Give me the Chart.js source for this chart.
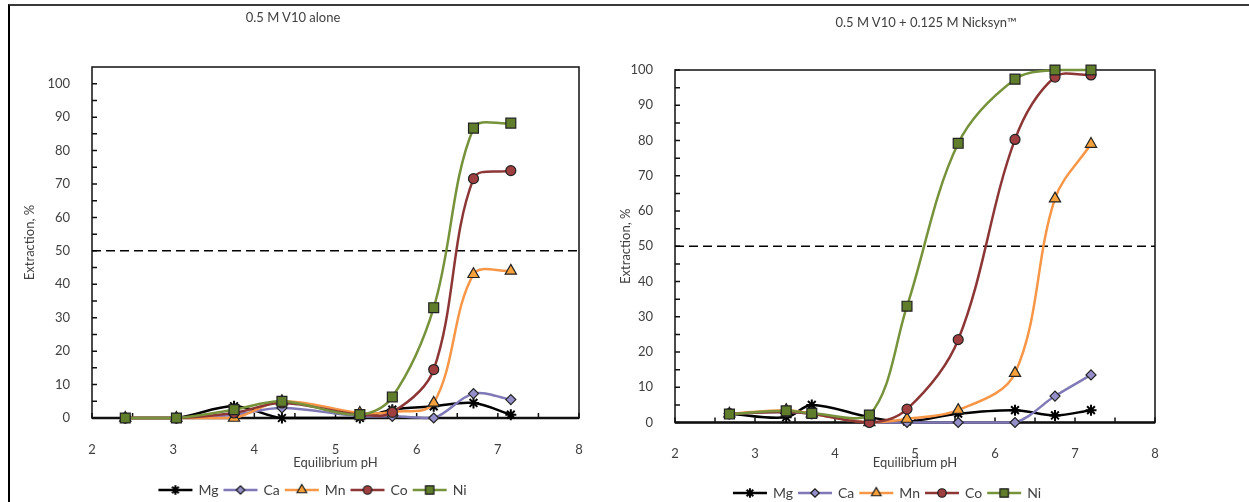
<!DOCTYPE html>
<html>
<head>
<meta charset="utf-8">
<script src="https://cdn.jsdelivr.net/npm/chart.js@4.4.1/dist/chart.umd.min.js"></script>
<style>
  body { margin: 0; background: #fff; }
  #wrap { position: relative; width: 1249px; height: 502px; overflow: hidden; font-family: Lato, "Noto Sans", sans-serif; color: #404040; }
  #border { position: absolute; left: 8px; top: 4px; right: -4px; bottom: -4px; border-top: 2px solid #3a3a3a; border-left: 2px solid #000; }
  .ttl { position: absolute; font-size: 13px; white-space: nowrap; transform: translate(-50%, -50%); }
  canvas { position: absolute; top: 0; }
</style>
</head>
<body>
<div id="wrap">
  <div id="border"></div>
  <canvas id="left" width="620" height="502" style="left:0"></canvas>
  <canvas id="right" width="629" height="502" style="left:620px"></canvas>
  <div class="ttl" style="left:293px;top:17px">0.5 M V10 alone</div>
  <div class="ttl" style="left:926px;top:22px">0.5 M V10 + 0.125 M Nicksyn™</div>
</div>
<script>
const metals = ["Mg", "Ca", "Mn", "Co", "Ni"];

// 0.5 M V10 alone
const phAlone = [2.41, 3.04, 3.75, 4.34, 5.30, 5.70, 6.21, 6.70, 7.16];
const mgAlone = [0, 0, 3.5, 0, 0, 2.5, 3.5, 4.5, 1];
const caAlone = [0, 0, 1, 3, 0.5, 0.5, 0, 7.3, 5.5];
const mnAlone = [0, 0, 0, 5, 1.5, 1.8, 4.5, 43, 44];
const coAlone = [0, 0, 1.5, 4.5, 1, 1.7, 14.5, 71.6, 74];
const niAlone = [0, 0, 2.5, 5, 1, 6.3, 33, 86.7, 88.2];

// 0.5 M V10 + 0.125 M Nicksyn
const phMix = [2.68, 3.39, 3.71, 4.43, 4.90, 5.54, 6.25, 6.75, 7.20];
const mgMix = [2.5, 1.5, 5, 1.5, 0.3, 2.5, 3.5, 2, 3.5];
const caMix = [2.5, 3, 2.5, 0, 0, 0, 0, 7.5, 13.5];
const mnMix = [2.5, 3.5, 2.5, 0, 1, 3.5, 14, 63.5, 79];
const coMix = [2.5, 3, 2.5, 0, 3.8, 23.5, 80.3, 98, 98.6];
const niMix = [2.4, 3.3, 2.6, 2.1, 33, 79.2, 97.4, 100, 100];

const halfLine = 50;

const lineColors = ["#000000", "#8079b8", "#f79646", "#8d3636", "#76933c"];
const fillColors = ["#000000", "#948fc8", "#f7a13a", "#a03f3f", "#5f7d2a"];
const markers = ["star", "rectRot", "triangle", "circle", "rect"];
const markerSizes = [5.5, 5, 6.5, 5, 7];
const fontFam = "Lato, 'Noto Sans', sans-serif";
const textColor = "#404040";

// little line + marker picture for the legend
function legendIcon(i) {
  const c = document.createElement("canvas");
  c.width = 38; c.height = 16;
  const g = c.getContext("2d");
  g.strokeStyle = lineColors[i];
  g.lineWidth = 2.5;
  g.beginPath(); g.moveTo(2, 8); g.lineTo(36, 8); g.stroke();
  g.fillStyle = fillColors[i];
  g.strokeStyle = i == 0 ? "#000" : "#1a1a1a";
  g.lineWidth = i == 0 ? 2 : 1.2;
  Chart.helpers.drawPoint(g, { pointStyle: markers[i], radius: markerSizes[i] * 0.85, borderWidth: g.lineWidth, rotation: 0 }, 19, 8);
  return c;
}
const icons = metals.map((m, i) => legendIcon(i));

// box round the plot + inward tick marks
const framePlugin = {
  id: "frame",
  beforeDatasetsDraw(chart) {
    const { ctx, chartArea: a, scales: { x, y } } = chart;
    ctx.save();
    ctx.strokeStyle = "#111";
    ctx.lineWidth = 1.5;
    ctx.strokeRect(a.left, a.top, a.right - a.left, a.bottom - a.top);
    const y0 = y.getPixelForValue(0);
    ctx.lineWidth = 2.5;
    ctx.beginPath(); ctx.moveTo(a.left, y0); ctx.lineTo(a.right, y0); ctx.stroke();
    ctx.lineWidth = 1.5;
    ctx.beginPath();
    for (let v = x.min; v <= x.max; v += 0.5) {
      const px = x.getPixelForValue(v);
      ctx.moveTo(px, y0); ctx.lineTo(px, y0 - 5);
    }
    for (let v = 0; v <= 100; v += 5) {
      const py = y.getPixelForValue(v);
      ctx.moveTo(a.left, py); ctx.lineTo(a.left + 5, py);
    }
    ctx.stroke();
    ctx.restore();
  }
};

function makeChart(id, ph, series, yMax, opt) {
  const datasets = series.map((vals, i) => ({
    label: metals[i],
    data: ph.map((x, j) => ({ x: x, y: vals[j] })),
    borderColor: lineColors[i],
    backgroundColor: fillColors[i],
    borderWidth: 2.5,
    tension: 0.35,
    pointStyle: markers[i],
    pointRadius: markerSizes[i],
    pointBackgroundColor: fillColors[i],
    pointBorderColor: i == 0 ? "#000" : "#222",
    pointBorderWidth: i == 0 ? 2 : 1.2,
    order: 5 - i,
    clip: false
  }));
  datasets.push({
    label: "half",
    data: [{ x: 2, y: halfLine }, { x: 8, y: halfLine }],
    borderColor: "#000",
    borderWidth: 1.5,
    borderDash: [9, 5],
    pointRadius: 0,
    tension: 0,
    order: 10
  });

  return new Chart(id, {
    type: "line",
    data: { datasets: datasets },
    plugins: [framePlugin],
    options: {
      responsive: false,
      animation: false,
      layout: { padding: opt.pad },
      plugins: {
        title: { display: false },
        tooltip: { enabled: false },
        legend: {
          position: "bottom",
          labels: {
            usePointStyle: true,
            pointStyleWidth: 32,
            padding: 6,
            color: textColor,
            font: { family: fontFam, size: 14 },
            generateLabels: () => metals.map((m, i) => ({
              text: m, pointStyle: icons[i], datasetIndex: i,
              fillStyle: "transparent", strokeStyle: "transparent", lineWidth: 0,
              hidden: false, fontColor: textColor
            }))
          }
        }
      },
      scales: {
        x: {
          type: "linear", min: 2, max: 8,
          grid: { display: false }, border: { display: false },
          ticks: { stepSize: 1, padding: opt.xPad, maxRotation: 0, color: textColor, font: { family: fontFam, size: 13 } },
          title: { display: true, text: "Equilibrium pH", color: textColor, font: { family: fontFam, size: 13 }, padding: { top: 0, bottom: opt.xTitlePad } },
          afterFit: s => { s.height = opt.xH; s.paddingLeft = 0; s.paddingRight = 0; }
        },
        y: {
          min: 0, max: yMax,
          grid: { display: false }, border: { display: false },
          ticks: { stepSize: 10, padding: 14, color: textColor, font: { family: fontFam, size: 13 } },
          afterBuildTicks: s => { s.ticks = s.ticks.filter(t => t.value % 10 === 0 && t.value <= 100); },
          title: { display: true, text: "Extraction, %", color: textColor, font: { family: fontFam, size: 13 }, padding: { top: opt.yTitlePad, bottom: 0 } },
          afterFit: s => { s.width = opt.yW; s.paddingTop = 0; s.paddingBottom = 0; }
        }
      }
    }
  });
}

makeChart("left", phAlone, [mgAlone, caAlone, mnAlone, coAlone, niAlone], 105, {
  pad: { left: 47, right: 41, top: 67, bottom: -5 },
  yW: 45, yTitlePad: -25, xH: 59, xPad: 16, xTitlePad: 6
});

makeChart("right", phMix, [mgMix, caMix, mnMix, coMix, niMix], 100, {
  pad: { left: 0, right: 94, top: 70, bottom: -8 },
  yW: 55, yTitlePad: -2, xH: 57.5, xPad: 16, xTitlePad: 9
});
</script>
</body>
</html>
